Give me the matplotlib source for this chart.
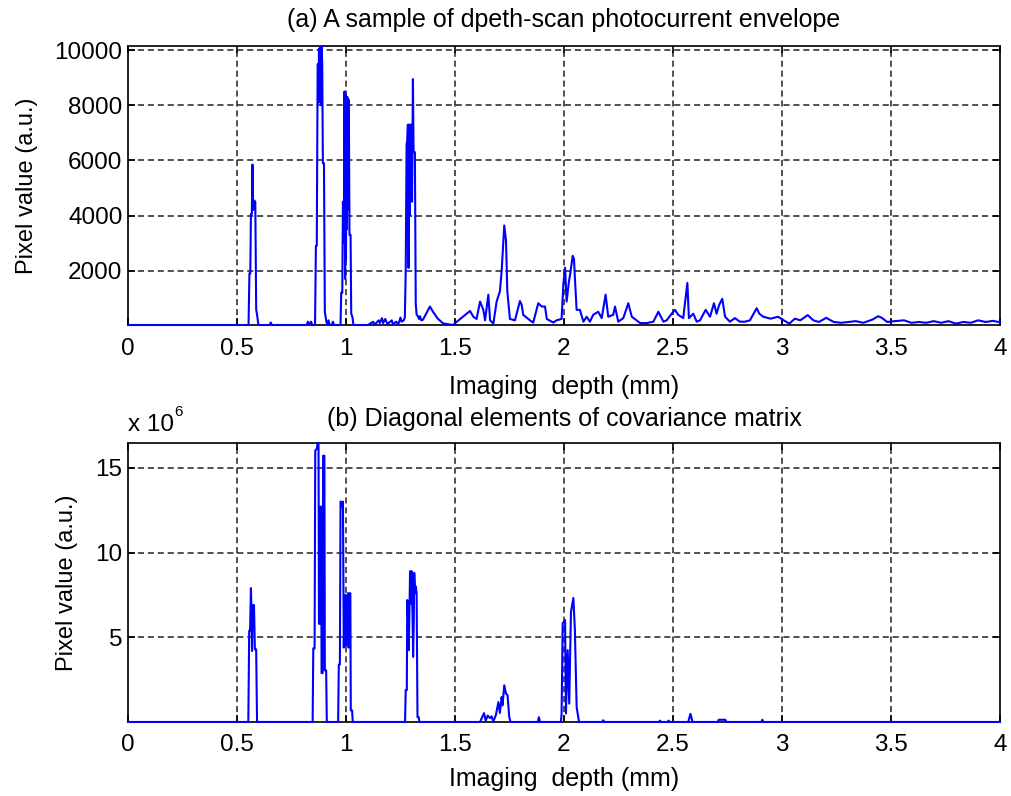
import numpy as np
import matplotlib
matplotlib.use("Agg")
import matplotlib.pyplot as plt

# (a) envelope de la fotocorriente, profundidad en mm
prof_a = [0.0, 0.550, 0.553, 0.557, 0.561, 0.564, 0.568, 0.571, 0.574, 0.578, 0.584, 0.588, 0.594, 0.598,
          0.650, 0.655, 0.660, 0.820, 0.825, 0.830, 0.840, 0.845, 0.855,
          0.858, 0.862, 0.866, 0.870, 0.872, 0.874, 0.876, 0.879, 0.882, 0.885, 0.888, 0.891, 0.894, 0.899,
          0.903, 0.910, 0.915, 0.920, 0.925, 0.935, 0.940, 0.945,
          0.975, 0.978, 0.983, 0.986, 0.990, 0.993, 0.996, 0.998, 1.000, 1.002, 1.004, 1.006, 1.008, 1.010,
          1.013, 1.016, 1.021, 1.024, 1.030, 1.034,
          1.100, 1.125, 1.130, 1.150, 1.155, 1.165, 1.170, 1.180, 1.190, 1.210, 1.215, 1.230, 1.240, 1.250,
          1.255, 1.265,
          1.270, 1.274, 1.278, 1.281, 1.284, 1.287, 1.290, 1.293, 1.296, 1.300, 1.303, 1.307, 1.310, 1.316,
          1.320, 1.324, 1.330, 1.335, 1.340, 1.345, 1.353,
          1.385, 1.400, 1.420, 1.445, 1.490, 1.569, 1.584, 1.599, 1.615, 1.630, 1.638, 1.653, 1.661, 1.676,
          1.691, 1.706, 1.714, 1.726, 1.734, 1.740, 1.752, 1.775, 1.798, 1.806, 1.813, 1.844, 1.859, 1.882,
          1.898, 1.913, 1.921, 1.951, 1.966, 1.989, 1.997, 2.005, 2.012, 2.023, 2.028, 2.040, 2.046, 2.050,
          2.058, 2.073, 2.089, 2.104, 2.119, 2.134, 2.157, 2.173, 2.191, 2.203, 2.226, 2.234, 2.249, 2.272,
          2.295, 2.311, 2.333, 2.349, 2.379, 2.410, 2.433, 2.456, 2.471, 2.494, 2.509, 2.524, 2.547, 2.566,
          2.573, 2.593, 2.609, 2.624, 2.650, 2.670, 2.688, 2.700, 2.712, 2.726, 2.739, 2.761, 2.784, 2.807,
          2.830, 2.853, 2.884, 2.896, 2.914, 2.948, 2.982, 3.008, 3.034, 3.059, 3.084, 3.118, 3.144, 3.169,
          3.203, 3.237, 3.271, 3.305, 3.339, 3.373, 3.416, 3.441, 3.458, 3.483, 3.517, 3.560, 3.594, 3.628,
          3.662, 3.696, 3.730, 3.764, 3.798, 3.832, 3.866, 3.900, 3.934, 3.968, 3.993, 4.000]
valor_a = [30, 30, 30, 1900, 1900, 4050, 4050, 5850, 4200, 4550, 4500, 600, 300, 30,
           30, 120, 30, 30, 150, 60, 150, 30, 30,
           30, 2900, 2900, 9480, 9500, 8100, 10050, 8200, 10100, 8000, 10150, 9500, 5900, 5900,
           500, 150, 30, 200, 30, 30, 150, 30,
           30, 1200, 1200, 4500, 3000, 8500, 1700, 8400, 2400, 8300, 3500, 8300, 4200, 8200,
           8200, 3300, 3300, 450, 300, 30,
           30, 150, 30, 200, 100, 280, 100, 250, 60, 200, 60, 150, 60, 300,
           150, 200,
           300, 2000, 6600, 6700, 7300, 2100, 7300, 4000, 7200, 7300, 4500, 8950, 6300, 6300,
           800, 400, 350, 250, 350, 200, 220,
           700, 500, 270, 90, 30, 540, 330, 250, 880, 580, 200, 1130, 200, 80,
           880, 1250, 1985, 3640, 3090, 1250, 250, 200, 900, 760, 400, 200, 120, 820,
           700, 700, 250, 120, 200, 250, 1500, 2110, 880, 1620, 1860, 2540, 2420, 1740,
           580, 580, 150, 330, 150, 400, 510, 280, 1130, 330, 400, 700, 150, 280,
           820, 330, 200, 100, 100, 150, 510, 150, 200, 440, 580, 400, 280, 1560,
           280, 440, 150, 200, 580, 330, 820, 440, 760, 980, 330, 150, 280, 150,
           150, 200, 640, 440, 330, 260, 330, 200, 80, 260, 200, 390, 200, 140,
           290, 140, 110, 140, 170, 110, 230, 350, 290, 140, 170, 200, 110, 140,
           110, 170, 110, 170, 80, 140, 110, 200, 140, 180, 140, 150]

# (b) diagonal de la matriz de covarianza, en unidades de 10^6
prof_b = [0.0, 0.552, 0.556, 0.560, 0.564, 0.567, 0.569, 0.572, 0.575, 0.578, 0.582, 0.588, 0.592,
          0.847, 0.850, 0.856, 0.859, 0.866, 0.870, 0.874, 0.876, 0.880, 0.882, 0.886, 0.888, 0.893,
          0.895, 0.901, 0.903, 0.909, 0.912,
          0.964, 0.967, 0.972, 0.975, 0.980, 0.983, 0.986, 0.990, 0.993, 0.995, 0.998, 1.000, 1.003,
          1.006, 1.009, 1.012, 1.015, 1.020, 1.022, 1.028, 1.031,
          1.271, 1.274, 1.279, 1.281, 1.285, 1.288, 1.291, 1.294, 1.298, 1.301, 1.305, 1.308, 1.311,
          1.313, 1.317, 1.320, 1.324, 1.328, 1.334, 1.337,
          1.615, 1.633, 1.641, 1.650, 1.661, 1.668, 1.676, 1.688, 1.699, 1.706, 1.714, 1.718, 1.726,
          1.734, 1.741, 1.749, 1.755,
          1.880, 1.885, 1.890,
          1.986, 1.989, 1.994, 2.005, 2.009, 2.017, 2.024, 2.032, 2.043, 2.050, 2.058, 2.069,
          2.175, 2.180, 2.185, 2.435, 2.440, 2.445, 2.475, 2.480, 2.485, 2.570, 2.580, 2.590,
          2.705, 2.710, 2.740, 2.745, 2.905, 2.910, 2.915, 4.000]
valor_b = [0.02, 0.02, 5.4, 5.4, 7.9, 6.3, 4.2, 6.9, 5.6, 6.9, 4.3, 4.3, 0.02,
           0.02, 4.35, 4.35, 16.0, 16.1, 16.45, 16.45, 5.8, 5.8, 12.7, 12.7, 2.9, 2.9,
           15.7, 15.7, 3.06, 3.06, 0.02,
           0.02, 3.4, 3.4, 13.0, 12.9, 12.7, 13.0, 4.4, 7.4, 4.8, 7.5, 4.5, 7.3,
           5.0, 7.6, 4.4, 7.6, 7.6, 0.7, 0.7, 0.02,
           0.02, 1.9, 1.9, 7.2, 6.0, 4.25, 6.5, 8.9, 7.0, 8.9, 6.4, 3.85, 6.0,
           8.8, 7.6, 8.0, 7.6, 0.3, 0.3, 0.02,
           0.02, 0.54, 0.1, 0.4, 0.25, 0.35, 0.05, 0.45, 1.19, 0.55, 1.49, 1.0, 2.18,
           1.69, 1.6, 0.3, 0.02,
           0.02, 0.3, 0.02,
           0.02, 0.5, 5.83, 6.02, 0.52, 4.25, 1.1, 6.5, 7.32, 5.43, 0.9, 0.02,
           0.02, 0.12, 0.02, 0.02, 0.1, 0.02, 0.02, 0.1, 0.02, 0.02, 0.5, 0.02,
           0.02, 0.15, 0.15, 0.02, 0.02, 0.15, 0.02, 0.02]

ticks_x = [0, 0.5, 1, 1.5, 2, 2.5, 3, 3.5, 4]
etiquetas_x = ["0", "0.5", "1", "1.5", "2", "2.5", "3", "3.5", "4"]
ticks_a = [2000, 4000, 6000, 8000, 10000]
ticks_b = [5, 10, 15]

plt.rcParams["font.family"] = ["Liberation Sans", "DejaVu Sans"]
plt.rcParams["font.size"] = 18

fig = plt.figure(figsize=(10.11, 7.96), dpi=100)
ax_a = fig.add_axes([0.1266, 0.5917, 0.8625, 0.3505])
ax_b = fig.add_axes([0.1266, 0.0930, 0.8625, 0.3505])


def estilo(eje):
    # look tipo matlab: caja, ticks adentro, grilla punteada
    eje.set_xlim(0, 4)
    eje.set_xticks(ticks_x)
    eje.set_xticklabels(etiquetas_x)
    eje.tick_params(direction="in", length=5, width=1.2, top=True, right=True,
                    labelsize=17.5, pad=9)
    eje.tick_params(axis="y", pad=4)
    eje.grid(True, color="#222222", linestyle=(0, (4, 2.5)), linewidth=1.1)
    for lado in eje.spines.values():
        lado.set_linewidth(1.4)
        lado.set_color("#222222")
    eje.set_axisbelow(False)


ax_a.plot(prof_a, valor_a, color="#0000ff", linewidth=1.5, zorder=3, clip_on=False)
estilo(ax_a)
ax_a.set_ylim(min(valor_a), max(valor_a))
ax_a.set_yticks(ticks_a)
ax_a.set_yticklabels([str(t) for t in ticks_a])
ax_a.text(0.5, 1.095, "(a) A sample of dpeth-scan photocurrent envelope", transform=ax_a.transAxes,
          ha="center", va="center", fontsize=18)
ax_a.set_xlabel("Imaging  depth (mm)", fontsize=18)
ax_a.xaxis.set_label_coords(0.5, -0.18)
ax_a.set_ylabel("Pixel value (a.u.)", fontsize=17)
ax_a.yaxis.set_label_coords(-0.103, 0.5)

ax_b.plot(prof_b, valor_b, color="#0000ff", linewidth=1.5, zorder=3, clip_on=False)
estilo(ax_b)
ax_b.set_ylim(min(valor_b), max(valor_b))
ax_b.set_yticks(ticks_b)
ax_b.set_yticklabels([str(t) for t in ticks_b])
ax_b.text(0.5, 1.085, "(b) Diagonal elements of covariance matrix", transform=ax_b.transAxes,
          ha="center", va="center", fontsize=18)
ax_b.text(0.0, 1.063, "x 10", transform=ax_b.transAxes, ha="left", va="center", fontsize=17.5)
ax_b.text(0.053, 1.112, "6", transform=ax_b.transAxes, ha="left", va="center", fontsize=11)
ax_b.set_xlabel("Imaging  depth (mm)", fontsize=18)
ax_b.xaxis.set_label_coords(0.5, -0.16)
ax_b.set_ylabel("Pixel value (a.u.)", fontsize=17)
ax_b.yaxis.set_label_coords(-0.057, 0.5)

fig.savefig("out.png", dpi=100)
